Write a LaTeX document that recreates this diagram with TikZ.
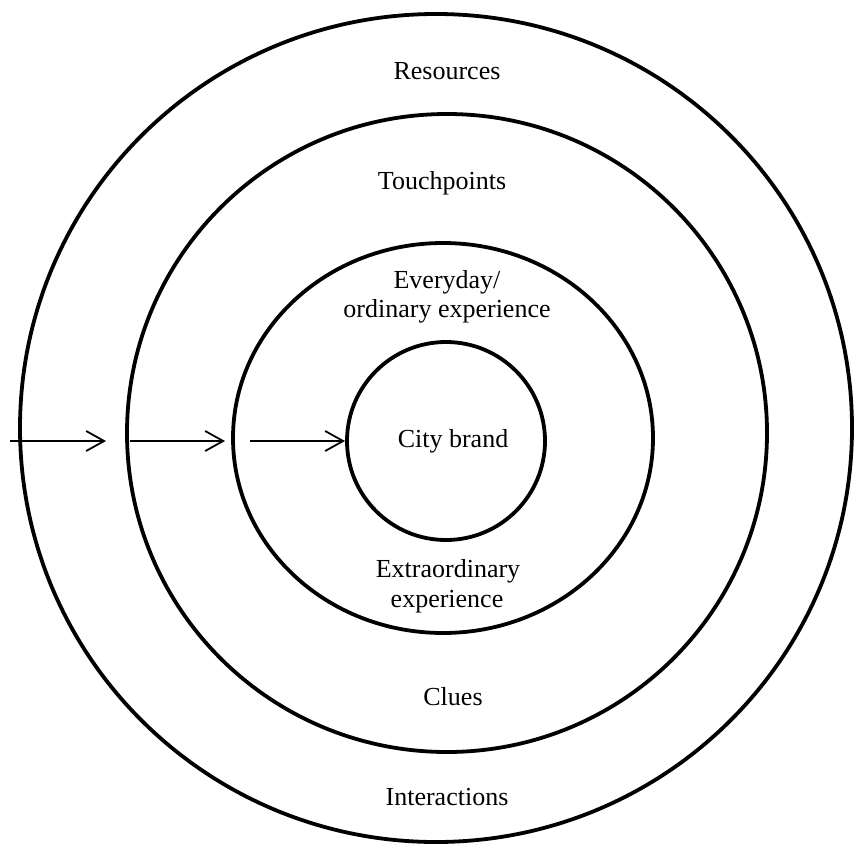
\documentclass[tikz,border=0pt]{standalone}
\usepackage{fontspec}
\setmainfont{Liberation Serif}
\usetikzlibrary{arrows.meta}
\begin{document}
\begin{tikzpicture}[x=1pt,y=-1pt,
  ring/.style={line width=3.8pt},
  flow/.style={line width=1.8pt,-{Straight Barb[length=18pt,width=20pt]}},
  lbl/.style={font=\fontsize{26}{30}\selectfont,anchor=base,inner sep=0pt,align=center}]
\useasboundingbox (0,0) rectangle (856,848);
% centres
\coordinate (c1) at (436,428);
\coordinate (c2) at (447,433);
\coordinate (c3) at (443,438);
\coordinate (c4) at (446,441);
% rings
\draw[ring] (c1) ellipse [x radius=416pt, y radius=414pt];
\draw[ring] (c2) ellipse [x radius=320pt, y radius=319pt];
\draw[ring] (c3) ellipse [x radius=210pt, y radius=195pt];
\draw[ring] (c4) circle [radius=99pt];
% arrows
\coordinate (a1s) at (10,441);  \coordinate (a1e) at (106,441);
\coordinate (a2s) at (130,441); \coordinate (a2e) at (225,441);
\coordinate (a3s) at (250,441); \coordinate (a3e) at (345,441);
\draw[flow] (a1s) -- (a1e);
\draw[flow] (a2s) -- (a2e);
\draw[flow] (a3s) -- (a3e);
% labels
\node[lbl] (res) at (447,80) {Resources};
\node[lbl] (tou) at (442,189) {Touchpoints};
\node[lbl] (eve) at (447,288) {Everyday/};
\node[lbl] (ord) at (447,317) {ordinary experience};
\node[lbl] (cit) at (453,447) {City brand};
\node[lbl] (ext) at (448,577) {Extraordinary};
\node[lbl] (exp) at (447,607) {experience};
\node[lbl] (clu) at (453,705) {Clues};
\node[lbl] (int) at (447,805) {Interactions};
\end{tikzpicture}
\end{document}
